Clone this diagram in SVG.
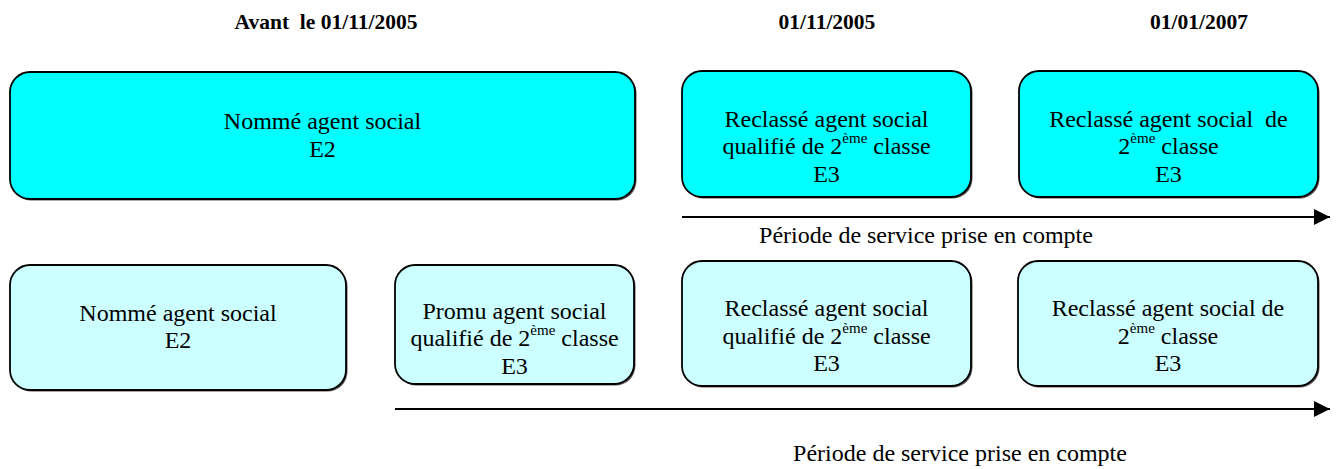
<svg xmlns="http://www.w3.org/2000/svg" width="1341" height="469" viewBox="0 0 1341 469">
<defs>
<style>
text{font-family:"Liberation Serif","Times New Roman",serif;fill:#000;white-space:pre}
.t{font-size:24px;text-anchor:middle}
.h{font-size:21.5px;font-weight:bold;text-anchor:middle}
.sup{font-size:15px}
.lbl{font-size:24px;text-anchor:middle}
.b1{fill:#00FFFF;stroke:#000;stroke-width:1.8}
.b2{fill:#CCFFFF;stroke:#000;stroke-width:1.8}
.sh{fill:#555}
.ln{stroke:#000;stroke-width:2;fill:none}
</style>
<marker id="ah" markerWidth="16" markerHeight="16" refX="16" refY="8" orient="auto" markerUnits="userSpaceOnUse">
<path d="M0,0 L16,8 L0,16 Z" fill="#000"/>
</marker>
</defs>
<rect width="1341" height="469" fill="#fff"/>

<g id="headers">
<text class="h" x="326" y="29">Avant  le 01/11/2005</text>
<text class="h" x="827" y="29">01/11/2005</text>
<text class="h" x="1199" y="29">01/01/2007</text>
</g>

<g id="n1">
<rect class="sh" x="11.5" y="73.5" width="625" height="127" rx="20"/>
<rect class="b1" x="10" y="72" width="625" height="127" rx="20"/>
<text class="t" x="322.5" y="129">Nommé agent social</text>
<text class="t" x="322.5" y="156.5">E2</text>
</g>

<g id="n2">
<rect class="sh" x="683.5" y="72.5" width="289" height="126" rx="20"/>
<rect class="b1" x="682" y="71" width="289" height="126" rx="20"/>
<text class="t" x="826.5" y="126.7">Reclassé agent social</text>
<text class="t" x="826.5" y="154.3">qualifié de 2<tspan class="sup" dy="-11">ème</tspan><tspan dy="11"> classe</tspan></text>
<text class="t" x="826.5" y="182">E3</text>
</g>

<g id="n3">
<rect class="sh" x="1020.5" y="72.5" width="299" height="126" rx="20"/>
<rect class="b1" x="1019" y="71" width="299" height="126" rx="20"/>
<text class="t" x="1168.5" y="126.7">Reclassé agent social  de</text>
<text class="t" x="1168.5" y="154.3">2<tspan class="sup" dy="-11">ème</tspan><tspan dy="11"> classe</tspan></text>
<text class="t" x="1168.5" y="182">E3</text>
</g>

<g id="n4">
<rect class="sh" x="11.5" y="266.5" width="336" height="125" rx="20"/>
<rect class="b2" x="10" y="265" width="336" height="125" rx="20"/>
<text class="t" x="178" y="320.5">Nommé agent social</text>
<text class="t" x="178" y="348">E2</text>
</g>

<g id="n5">
<rect class="sh" x="396.5" y="266.5" width="239" height="119" rx="20"/>
<rect class="b2" x="395" y="265" width="239" height="119" rx="20"/>
<text class="t" x="514.5" y="318.5">Promu agent social</text>
<text class="t" x="514.5" y="346">qualifié de 2<tspan class="sup" dy="-11">ème</tspan><tspan dy="11"> classe</tspan></text>
<text class="t" x="514.5" y="373.5">E3</text>
</g>

<g id="n6">
<rect class="sh" x="683.5" y="262.5" width="289" height="125" rx="20"/>
<rect class="b2" x="682" y="261" width="289" height="125" rx="20"/>
<text class="t" x="826.5" y="316">Reclassé agent social</text>
<text class="t" x="826.5" y="343.5">qualifié de 2<tspan class="sup" dy="-11">ème</tspan><tspan dy="11"> classe</tspan></text>
<text class="t" x="826.5" y="371">E3</text>
</g>

<g id="n7">
<rect class="sh" x="1019.5" y="262.5" width="300" height="125" rx="20"/>
<rect class="b2" x="1018" y="261" width="300" height="125" rx="20"/>
<text class="t" x="1168" y="316">Reclassé agent social de</text>
<text class="t" x="1168" y="343.5">2<tspan class="sup" dy="-11">ème</tspan><tspan dy="11"> classe</tspan></text>
<text class="t" x="1168" y="371">E3</text>
</g>

<g id="connectors">
<line class="ln" x1="682" y1="217" x2="1330" y2="217" marker-end="url(#ah)"/>
<line class="ln" x1="395" y1="409" x2="1330" y2="409" marker-end="url(#ah)"/>
</g>

<g id="labels">
<text class="lbl" x="926" y="243">Période de service prise en compte</text>
<text class="lbl" x="960" y="461">Période de service prise en compte</text>
</g>
</svg>
